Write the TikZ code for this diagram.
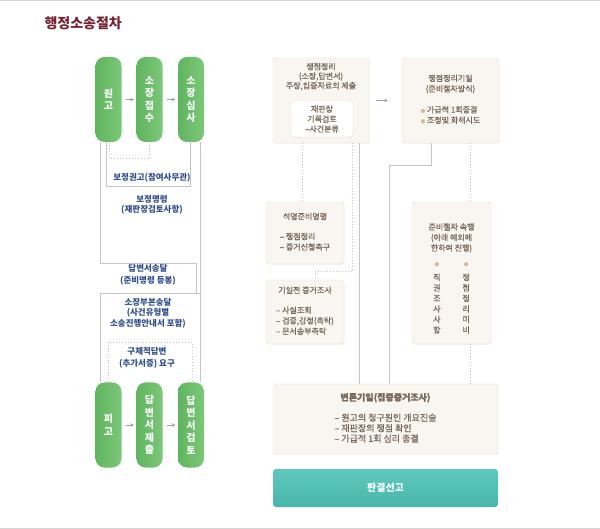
\documentclass[tikz,border=0pt]{standalone}
\usepackage{fontspec}
\setmainfont{Noto Sans CJK KR}
\newfontfamily\krmed[FakeBold=0.7]{Noto Sans CJK KR}
\usepackage{tikz}
\usetikzlibrary{arrows.meta,positioning,shadows,calc}
\definecolor{headred}{RGB}{118,34,50}
\definecolor{leafdark}{RGB}{96,180,96}
\definecolor{leaflight}{RGB}{124,200,120}
\definecolor{tealtop}{RGB}{96,200,190}
\definecolor{tealbot}{RGB}{72,182,170}
\definecolor{cardbg}{RGB}{249,245,240}
\definecolor{cardline}{RGB}{234,224,210}
\definecolor{cardtxt}{RGB}{120,104,90}
\definecolor{ink}{RGB}{48,78,140}
\definecolor{wire}{RGB}{196,196,202}
\definecolor{tipgray}{RGB}{160,160,166}
\definecolor{bull}{RGB}{212,186,150}
\definecolor{rulegray}{RGB}{214,214,214}
\newcommand{\itemcol}[1]{\begin{tabular}{@{}l@{}}#1\end{tabular}}
\newcommand{\dotb}{\textcolor{bull}{\fontsize{4.5}{5}\selectfont ●}}

\begin{document}
\begin{tikzpicture}[x=1pt,y=-1pt,
    pill/.style={left color=leafdark,right color=leaflight,rounded corners=9pt,
      minimum width=26pt,minimum height=85pt,inner sep=0pt,text=white,
      font=\fontsize{10}{12.5}\selectfont\bfseries,align=center},
    card/.style={fill=cardbg,draw=cardline,rounded corners=3pt,
      drop shadow={shadow xshift=0.6pt,shadow yshift=-0.9pt,opacity=0.35,fill=cardline},
      text=cardtxt,font=\fontsize{8}{10.5}\selectfont\krmed,align=center,inner sep=0pt},
    cardnote/.style={text=cardtxt,font=\fontsize{8}{9.5}\selectfont\krmed,align=center,inner sep=0pt},
    note/.style={text=ink,font=\fontsize{8.5}{10.5}\selectfont\bfseries,align=center},
    link/.style={draw=wire,line width=0.7pt},
    dots/.style={draw=wire,line width=0.8pt,dash pattern=on 0.8pt off 2.2pt},
    arr/.style={-{Stealth[length=3.5pt,width=3.5pt]},draw=tipgray,line width=0.8pt}]
  \useasboundingbox[fill=white] (0,0) rectangle (600,529);
  \draw[rulegray,line width=1.5pt] (0,0.75) -- (600,0.75);
  \draw[rulegray,line width=1.5pt] (0,528.25) -- (600,528.25);
  \node[anchor=west,text=headred,font=\fontsize{14}{16}\selectfont\bfseries] (head) at (41,23) {행정소송절차};

  % plaintiff / defendant columns
  \node[pill] (won) at (108.5,99.5) {원\\고};
  \node[pill] (jeopsu) at (149.5,99.5) {소\\장\\접\\수};
  \node[pill] (simsa) at (191,99.5) {소\\장\\심\\사};
  \node[pill] (pigo) at (108.5,425) {피\\고};
  \node[pill] (jechul) at (149.5,425) {답\\변\\서\\제\\출};
  \node[pill] (geomto) at (191,425) {답\\변\\서\\검\\토};
  \draw[arr,shorten <=4.5pt,shorten >=2.5pt] (won) -- (jeopsu);
  \draw[arr,shorten <=4.5pt,shorten >=2.5pt] (jeopsu) -- (simsa);
  \draw[arr,shorten <=4.5pt,shorten >=2.5pt] (pigo) -- (jechul);
  \draw[arr,shorten <=4.5pt,shorten >=2.5pt] (jechul) -- (geomto);

  \coordinate (c1) at ([xshift=0.5pt]won.south);
  \coordinate (c2) at ([xshift=-2.5pt]won.south);
  \coordinate (c3) at ([xshift=-1pt]simsa.south);
  \coordinate (c4) at ([xshift=-8.5pt]won.south);
  \coordinate (c5) at ([xshift=9pt]simsa.south);
  \coordinate (c6) at ([xshift=9pt]geomto.north);
  \coordinate (c7) at ([xshift=-8.5pt]pigo.north);
  \coordinate (c8) at ([xshift=-0.5pt]pigo.north);
  \coordinate (c9) at ([xshift=1pt]geomto.north);
  \coordinate (fork) at (200,293);
  \draw[dots] (c1) -- ++(0,16) -| (jeopsu.south);
  \draw[link] (c2) -- ++(0,44) -| (c3);
  \draw[link] (c4) -- ++(0,121) -| ([xshift=-4pt]fork);
  \draw[link] (c5) -- (c6);
  \draw[link] (c7) |- (fork);
  \draw[dots] (c8) -- ++(0,-40) -| (c9);

  \node[note] (gwon) at (152,178) {보정권고(참여사무관)};
  \node[note] (myeong) at (152,205) {보정명령\\(재판장검토사항)};
  \node[note,font=\fontsize{8.5}{12}\selectfont\bfseries] (dapsong) at (148,274.5) {답변서송달\\(준비명령 등봉)};
  \node[note] (bubon) at (148,313) {소장부본송달\\(사건유형별\\소송진행안내서 포함)};
  \node[note,font=\fontsize{8.5}{12}\selectfont\bfseries] (guche) at (147,358) {구체적답변\\(추가서증) 요구};

  % court side
  \node[card,minimum width=96pt,minimum height=85pt] (issue) at (321,100.5) {};
  \node[cardnote,below=5pt of issue.north] (issueT) {쟁점정리\\(소장,답변서)\\주장,입증자료의 제출};
  \node[card,fill=white,minimum width=62pt,minimum height=36pt,font=\fontsize{8}{10}\selectfont\krmed] (review) at (322,119) {재판장\\기록검토\\–사건분류};
  \node[card,minimum width=97pt,minimum height=85pt] (hearing) at (450.5,100.5)
    {쟁점정리기일\\(준비절차방식)\\[11pt]\itemcol{\dotb\ 가급적 1회종결\\\dotb\ 조정및 화해시도}};
  \draw[arr,shorten <=7pt,shorten >=14pt] (issue) -- (hearing);

  \node[card,minimum width=78pt,minimum height=62pt] (order) at (305,233)
    {석명준비명령\\[11pt]\itemcol{– 쟁점정리\\– 증거신청촉구}};
  \node[card,minimum width=78pt,minimum height=64pt] (pretrial) at (305,312)
    {기일전 증거조사\\[11pt]\itemcol{– 사실조회\\– 검증,감정(촉탁)\\– 문서송부촉탁}};
  \node[card,minimum width=79pt,minimum height=142pt] (prep) at (451.5,273)
    {\rule{0pt}{20pt}준비절차 속행\\(아래 예외에\\한하여 진행)\\[5pt]
     \begin{tabular}{@{}c@{\hspace{22pt}}c@{}}\dotb&\dotb\\[4pt]
       직&쟁\\권&점\\조&정\\사&리\\사&미\\항&비\end{tabular}};
  \node[card,minimum width=225pt,minimum height=70pt,font=\fontsize{9}{10}\selectfont\krmed] (trial) at (385.5,419)
    {\textbf{변론기일(집중증거조사)}\\[10pt]\itemcol{– 원고의 청구원인 개요진술\\– 재판장의 쟁점 확인\\– 가급적 1회 심리 종결}};
  \node[top color=tealtop,bottom color=tealbot,rounded corners=3pt,minimum width=225pt,
    minimum height=38pt,text=white,font=\fontsize{10}{12}\selectfont\bfseries] (verdict) at (385.5,488) {판결선고};

  \coordinate (d1) at ([xshift=-19pt]issue.south);
  \coordinate (d2) at ([xshift=31pt]issue.south);
  \coordinate (d3) at ([xshift=10pt]pretrial.north);
  \coordinate (d4) at ([xshift=38pt]issue.south);
  \coordinate (d5) at ([xshift=-19.5pt]hearing.south);
  \coordinate (d6) at ([xshift=3.5pt]trial.north);
  \coordinate (d7) at ([xshift=19.5pt]hearing.south);
  \draw[dots] (d1) -- (d1 |- order.north);
  \draw[dots] (d2) |- ([yshift=8pt]d3) -- (d3);
  \draw[link] (d4) -- (d4 |- trial.north);
  \draw[link] (d5) -- ++(0,22) -| (d6);
  \draw[dots] (d7) -- (d7 |- prep.north);
  \draw[dots] (d7 |- prep.south) -- (d7 |- trial.north);
\end{tikzpicture}
\end{document}
